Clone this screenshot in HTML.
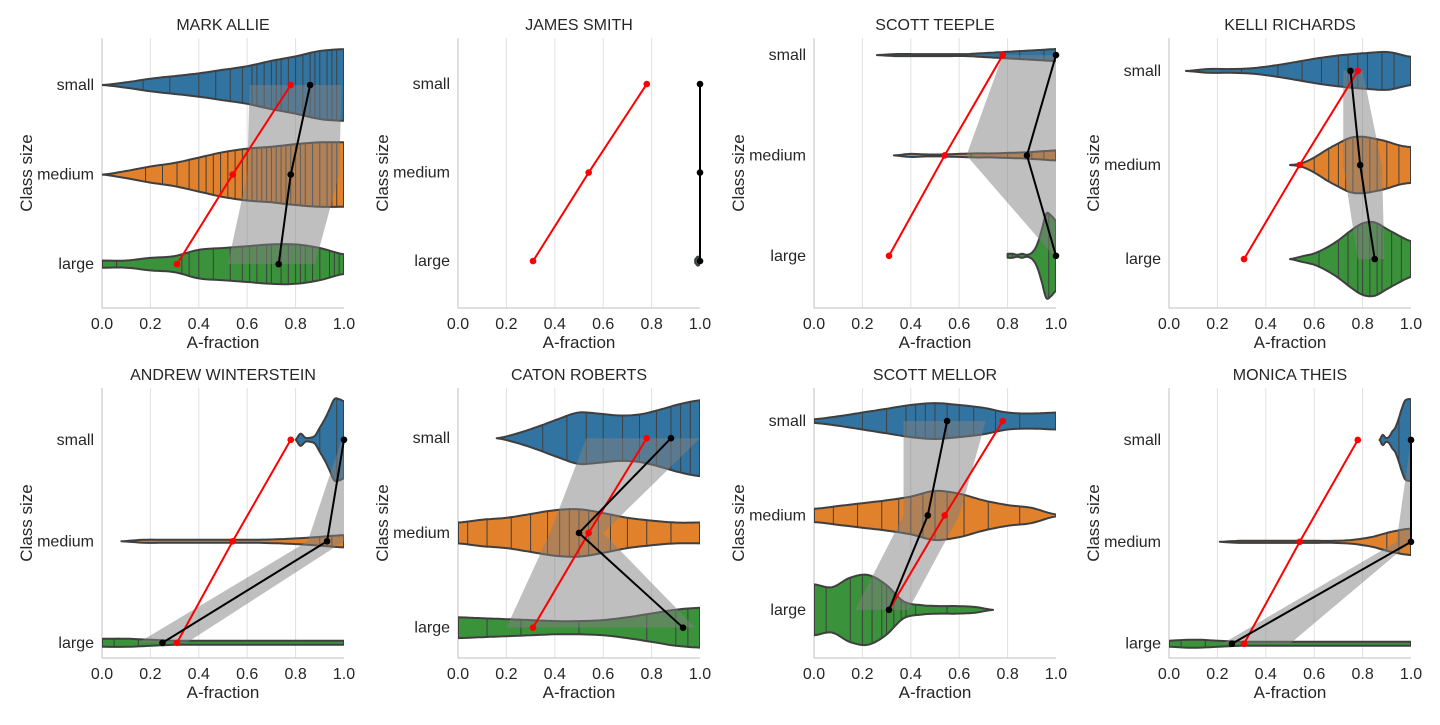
<!DOCTYPE html>
<html><head><meta charset="utf-8">
<style>
body{margin:0;background:#fff;}
svg text{font-family:"Liberation Sans",sans-serif;fill:#262626;}
</style></head>
<body>
<svg id="fig" width="1440" height="720" xmlns="http://www.w3.org/2000/svg"></svg>
<script>
const NS="http://www.w3.org/2000/svg";
const categories=["small","medium","large"];
const teachers=["MARK ALLIE","JAMES SMITH","SCOTT TEEPLE","KELLI RICHARDS","ANDREW WINTERSTEIN","CATON ROBERTS","SCOTT MELLOR","MONICA THEIS"];
const xTicks=[0,0.2,0.4,0.6,0.8,1.0];
const xTickLabels=["0.0","0.2","0.4","0.6","0.8","1.0"];
const refMeans=[0.78,0.54,0.31];
const teacherMeans=[[0.86,0.78,0.73],[1.0,1.0,1.0],[1.0,0.88,1.0],[0.75,0.79,0.85],[1.0,0.93,0.25],[0.88,0.5,0.93],[0.55,0.47,0.31],[1.0,1.0,0.26]];
const bandLo=[[0.61,0.6,0.52],[1,1,1],[0.78,0.63,0.99],[0.72,0.72,0.78],[0.99,0.85,0.15],[0.53,0.38,0.2],[0.37,0.37,0.17],[1.0,0.94,0.22]];
const bandHi=[[0.99,0.98,0.88],[1,1,1],[1.0,1.0,1.0],[0.8,0.88,0.89],[1.0,1.0,0.35],[1.0,0.6,0.98],[0.71,0.6,0.39],[1.0,1.0,0.5]];
const yLims=[[-0.525,2.49],[-0.52,2.53],[-0.17,2.52],[-0.35,2.52],[-0.51,2.15],[-0.53,2.32],[-0.35,2.51],[-0.51,2.14]];
const violinRange=[
 [[0,1],[0,1],[0,1]],
 [[0.995,1],[0.995,1],[0.98,1]],
 [[0.26,1],[0.33,1],[0.8,1]],
 [[0.07,1],[0.5,1],[0.5,1]],
 [[0.8,1],[0.08,1],[0,1]],
 [[0.16,1],[0,1],[0,1]],
 [[0,1],[0,1],[0,0.74]],
 [[0.87,1],[0.21,1],[0,1]]];
const violinDensity=[
 [[0,.03,.07,.1,.13,.17,.21,.27,.32,.38,.40],[0,.04,.09,.13,.19,.25,.29,.31,.34,.36,.36],[.04,.04,.07,.09,.16,.18,.2,.22,.22,.18,.11]],
 [[0,.02,0],[0,.02,0],[.02,.05,.04]],
 [[0,.01,.01,.01,.01,.01,.02,.03,.04,.05,.06],[0,.015,.01,.01,.015,.02,.02,.025,.03,.04,.05],[.02,.02,.01,.02,.01,.03,.1,.25,.42,.4,.35]],
 [[0,.02,.02,.03,.06,.1,.14,.17,.19,.2,.15],[0,.02,.08,.16,.23,.29,.3,.28,.25,.21,.19],[0,.03,.06,.12,.2,.3,.38,.39,.32,.25,.19]],
 [[0,.06,.02,.02,.04,.12,.2,.3,.4,.4,.38],[0,.015,.015,.015,.015,.015,.015,.02,.03,.045,.06],[.04,.04,.03,.02,.02,.02,.02,.02,.02,.02,.02]],
 [[0,.05,.12,.2,.27,.26,.24,.25,.3,.36,.4],[.11,.14,.16,.2,.24,.25,.21,.16,.13,.11,.11],[.11,.1,.09,.08,.07,.07,.08,.11,.15,.19,.21]],
 [[.02,.05,.09,.13,.17,.19,.17,.14,.09,.08,.09],[.07,.1,.13,.16,.2,.26,.23,.16,.11,.08,.01],[.27,.24,.34,.37,.27,.09,.05,.04,.04,.03,0]],
 [[0,.05,.02,.03,.08,.12,.2,.3,.38,.4,.4],[0,.01,.01,.01,.01,.01,.01,.02,.05,.1,.13],[.03,.04,.03,.02,.02,.02,.02,.02,.02,.02,.02]]];
const sticks=[
 [[0.17,0.28,0.4,0.47,0.53,0.58,0.62,0.64,0.67,0.7,0.72,0.74,0.77,0.8,0.83,0.86,0.88,0.9,0.93,0.95,0.97],[0.18,0.25,0.31,0.36,0.4,0.43,0.46,0.49,0.52,0.55,0.58,0.6,0.62,0.64,0.66,0.68,0.7,0.72,0.74,0.76,0.78,0.8,0.82,0.84,0.87,0.9,0.93,0.95,0.97],[0.06,0.33,0.36,0.4,0.46,0.53,0.58,0.61,0.64,0.68,0.7,0.74,0.77,0.8,0.82,0.84,0.87,0.9,0.94,0.96,0.98]],
 [[],[],[]],
 [[0.85,0.95],[0.5,0.65,0.8,0.9,0.95],[0.82,0.97]],
 [[0.3,0.45,0.55,0.63,0.7,0.74,0.78,0.82,0.88,0.93],[0.6,0.66,0.7,0.73,0.76,0.8,0.83,0.86,0.9,0.95],[0.62,0.7,0.74,0.78,0.8,0.83,0.86,0.88,0.92,0.96]],
 [[0.9,0.97],[0.9,0.95],[0.05,0.15,0.3]],
 [[0.35,0.45,0.53,0.6,0.68,0.75,0.82,0.88,0.92,0.96],[0.04,0.12,0.22,0.3,0.37,0.42,0.46,0.5,0.54,0.58,0.63,0.7,0.78,0.88],[0.12,0.26,0.5,0.78,0.9,0.95]],
 [[0.2,0.3,0.38,0.42,0.46,0.5,0.55,0.6,0.66,0.75,0.85],[0.08,0.18,0.28,0.35,0.4,0.45,0.5,0.55,0.62,0.72,0.85],[0.05,0.15,0.2,0.24,0.28,0.3,0.33,0.36,0.38,0.42,0.55]],
 [[0.95],[0.9,0.95],[0.05,0.15,0.25]]];
const colors=["#3274a1","#e1812c","#3a923a"];
const colX=[102,458,814,1169], rowY=[38,388], PW=242, PH=270;
const svg=document.getElementById("fig");
function mk(tag,attrs,parent){const e=document.createElementNS(NS,tag);for(const k in attrs)e.setAttribute(k,attrs[k]);(parent||svg).appendChild(e);return e;}
function interp(d,t){const n=d.length-1;const p=t*n;const i=Math.min(Math.floor(p),n-1);const f=p-i;
 const p0=d[Math.max(i-1,0)],p1=d[i],p2=d[i+1],p3=d[Math.min(i+2,n)];
 const v=0.5*((2*p1)+(-p0+p2)*f+(2*p0-5*p1+4*p2-p3)*f*f+(-p0+3*p1-3*p2+p3)*f*f*f);return Math.max(v,0);}
teachers.forEach((name,k)=>{
 const x0=colX[k%4], y0=rowY[Math.floor(k/4)];
 const [yt,yb]=yLims[k];
 const sx=v=>x0+v*PW, sy=c=>y0+(c-yt)/(yb-yt)*PH, sw=w=>w/(yb-yt)*PH;
 const g=mk("g",{});
 
 
 const cp=mk("clipPath",{id:"cp"+k},g);mk("rect",{x:x0,y:y0,width:PW,height:PH},cp);
 xTicks.forEach((t,i)=>{
  if(i>0&&i<5){const gl=mk("line",{x1:sx(t),x2:sx(t),y1:y0,y2:y0+PH,stroke:"#e0e0e0","stroke-width":1},g);
   }
  const tl=mk("text",{x:sx(t),y:y0+PH+21,"text-anchor":"middle","font-size":16},g);tl.textContent=xTickLabels[i];
  
 });
 const fr=mk("path",{d:`M${x0} ${y0}V${y0+PH}H${x0+PW}`,fill:"none",stroke:"#cccccc","stroke-width":1.2},g);
 
 const vg=mk("g",{"clip-path":`url(#cp${k})`},g);
 categories.forEach((c,ci)=>{
  const [lo,hi]=violinRange[k][ci], d=violinDensity[k][ci];
  const N=60, top=[], bot=[];
  for(let i=0;i<=N;i++){const t=i/N;const v=lo+(hi-lo)*t;const w=sw(interp(d,t));top.push([sx(v),sy(ci)-w]);bot.push([sx(v),sy(ci)+w]);}
  const pts=top.concat(bot.reverse()).map(p=>p[0].toFixed(1)+","+p[1].toFixed(1)).join(" ");
  const vp=mk("polygon",{points:pts,fill:colors[ci],stroke:"#3f3f3f","stroke-width":2,"stroke-linejoin":"round"},vg);
  
  sticks[k][ci].forEach(s=>{const t=(s-lo)/(hi-lo);if(t<0||t>1)return;const w=sw(interp(d,t));
   const sl=mk("line",{x1:sx(s),x2:sx(s),y1:sy(ci)-w,y2:sy(ci)+w,stroke:"#3f3f3f","stroke-width":1},vg);
   });
 });
 const bp=[0,1,2].map(ci=>[sx(bandLo[k][ci]),sy(ci)]).concat([2,1,0].map(ci=>[sx(bandHi[k][ci]),sy(ci)]));
 const band=mk("polygon",{points:bp.map(p=>p.join(",")).join(" "),fill:"#808080","fill-opacity":0.5},vg);
 
 [[refMeans,"#ff0000","reference-mean"],[teacherMeans[k],"#000000","teacher-mean"]].forEach(([arr,col,nm])=>{
  const pl=mk("polyline",{points:arr.map((v,ci)=>sx(v)+","+sy(ci)).join(" "),fill:"none",stroke:col,"stroke-width":2},g);
  
  arr.forEach((v,ci)=>{const m=mk("circle",{cx:sx(v),cy:sy(ci),r:3.3,fill:col},g);
   });
 });
 categories.forEach((c,ci)=>{const t=mk("text",{x:x0-8,y:sy(ci)+5,"text-anchor":"end","font-size":16},g);t.textContent=c;
  });
 const tt=mk("text",{x:x0+PW/2,y:y0-8,"text-anchor":"middle","font-size":16},g);tt.textContent=name;
 
 const xl=mk("text",{x:x0+PW/2,y:y0+PH+40,"text-anchor":"middle","font-size":17},g);xl.textContent="A-fraction";
 
 const yx=x0-70, yy=y0+PH/2;
 const yl=mk("text",{x:yx,y:yy,"text-anchor":"middle","font-size":17,transform:`rotate(-90 ${yx} ${yy})`},g);yl.textContent="Class size";
 
});
</script>
</body></html>
